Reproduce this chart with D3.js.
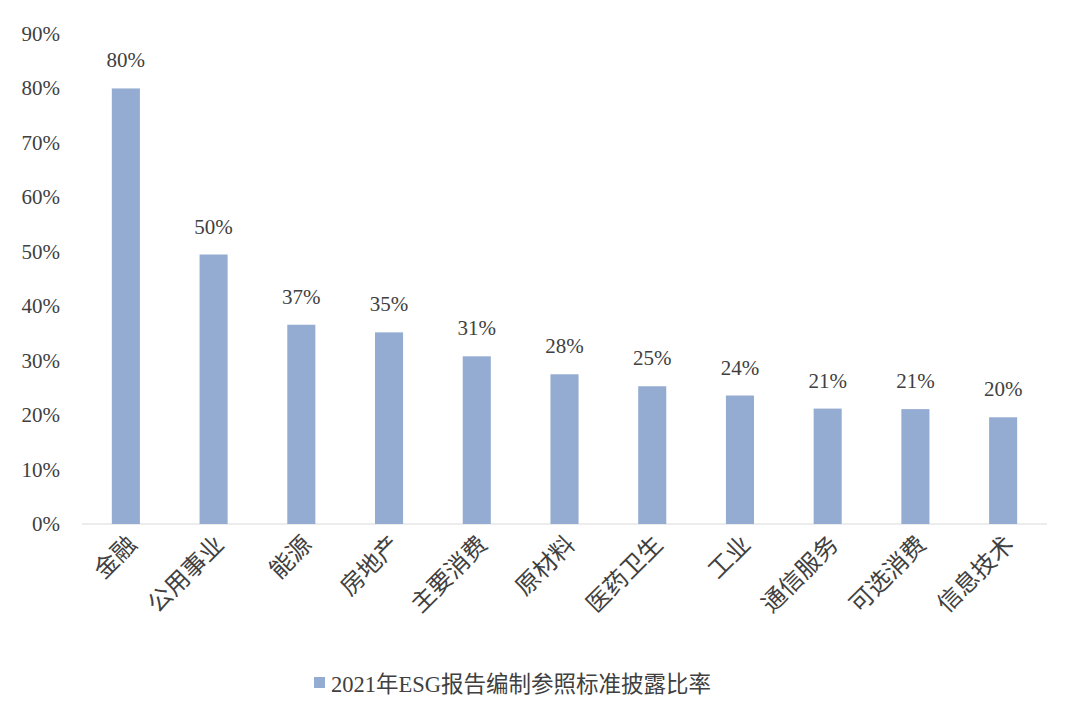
<!DOCTYPE html><html><head><meta charset="utf-8"><script src="https://cdn.jsdelivr.net/npm/d3@7"></script>
<style>body{margin:0;background:#fff}text{font-family:"Liberation Serif","Noto Sans CJK SC",serif;fill:#404040}</style></head><body>
<svg id="c" width="1080" height="723"></svg>
<script>
const categories=["金融","公用事业","能源","房地产","主要消费","原材料","医药卫生","工业","通信服务","可选消费","信息技术"];
const values=[80,49.5,36.6,35.2,30.8,27.5,25.3,23.6,21.2,21.1,19.6];
const valueLabels=["80%","50%","37%","35%","31%","28%","25%","24%","21%","21%","20%"];
const tickValues=[0,10,20,30,40,50,60,70,80,90];
const tickLabels=["0%","10%","20%","30%","40%","50%","60%","70%","80%","90%"];
const seriesName="2021年ESG报告编制参照标准披露比率";
const svg=d3.select("#c");
const x=d3.scaleBand().domain(categories).range([82,1047]).paddingInner(0.68).paddingOuter(0.34);
const y=d3.scaleLinear().domain([0,90]).range([524,34]);
svg.selectAll(".yl").data(tickValues).join("text").attr("x",60).attr("y",d=>y(d)+7).attr("text-anchor","end").style("font-size","21px").text((d,i)=>tickLabels[i]);
svg.append("line").attr("x1",82).attr("x2",1047).attr("y1",y(0)).attr("y2",y(0)).attr("stroke","#d9d9d9");
svg.selectAll(".b").data(values).join("rect").attr("x",(d,i)=>x(categories[i])).attr("width",x.bandwidth()).attr("y",d=>y(d)).attr("height",d=>y(0)-y(d)).attr("fill","#94acd1");
svg.selectAll(".vl").data(values).join("text").attr("x",(d,i)=>x(categories[i])+x.bandwidth()/2).attr("y",d=>y(d)-21).attr("text-anchor","middle").style("font-size","21px").text((d,i)=>valueLabels[i]);
svg.selectAll(".cl").data(categories).join("text").attr("transform",d=>`translate(${x(d)+x.bandwidth()/2+12},${546}) rotate(-45)`).attr("text-anchor","end").style("font-size","24px").text(d=>d);
svg.append("rect").attr("x",314).attr("y",677).attr("width",11).attr("height",11).attr("fill","#94acd1");
svg.append("text").attr("x",331).attr("y",692).style("font-size","22.5px").text(seriesName);
</script></body></html>
